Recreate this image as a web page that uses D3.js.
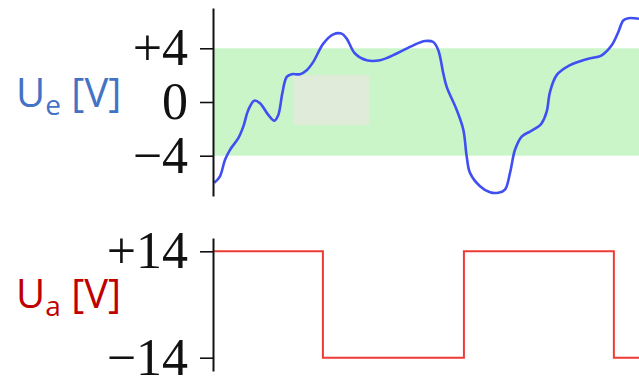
<!DOCTYPE html>
<html>
<head>
<meta charset="utf-8">
<script src="https://cdn.jsdelivr.net/npm/d3@7"></script>
<style>
  html, body { margin: 0; padding: 0; background: #fff; }
  svg { display: block; }
</style>
</head>
<body>
<svg id="chart" width="639" height="377"></svg>
<script>
// Input voltage U_e (time in ms, value in V)
const inputTime = [0.3, 1.64, 2.82, 3.99, 5.94, 7.11, 8.29, 9.69, 11.03, 12.98, 14.39, 15.33, 16.27, 17.3, 18.47, 20.42, 22.0, 23.54, 25.89, 28.24, 30.21, 31.38, 33.33, 36.08, 39.2, 43.12, 47.02, 49.77, 51.71, 52.89, 54.06, 54.86, 57.21, 58.76, 59.55, 60.33, 62.68, 65.02, 66.97, 68.54, 69.72, 70.89, 72.46, 74.41, 76.36, 77.16, 78.33, 79.11, 80.68, 83.8, 87.72, 91.24, 93.59, 95.14, 96.31, 97.49, 100];
const inputVolts = [-6.02, -5.53, -4.3, -3.56, -2.69, -1.83, -0.59, 0.1, -0.1, -0.96, -1.39, -0.96, 0.64, 1.87, 2.07, 2.07, 2.37, 2.99, 4.35, 5.04, 5.09, 4.72, 3.61, 3.11, 3.11, 3.61, 4.22, 4.54, 4.47, 3.85, 2.13, 1.13, -0.59, -2.07, -4.05, -5.28, -6.27, -6.72, -6.76, -6.52, -5.28, -3.56, -2.57, -2.2, -1.83, -1.58, -0.72, 0.76, 2.0, 2.74, 3.19, 3.48, 4.22, 5.21, 6.07, 6.24, 6.2];

// Output voltage U_a: switching instants and saturation levels
const outputTime = [0, 25.8, 58.9, 94.1, 100];
const outputVolts = [14, -14, 14, -14, -14];

// Hysteresis window of the trigger
const thresholdHigh = 4;
const thresholdLow = -4;
// Shaded patch inside the window
const patchTime = [18.8, 36.6];
const patchVolts = [2.0, -1.7];

const inputTicks = [-4, 0, 4];
const outputTicks = [-14, 14];

const timeDomain = [0, 100];

const svg = d3.select("#chart");

const x = d3.scaleLinear().domain(timeDomain).range([213, 639]);
const yIn = d3.scaleLinear().domain([-7, 7]).range([196, 8]);
const yOut = d3.scaleLinear().domain([-17.5, 17.5]).range([371, 238]);

const signed = d => d > 0 ? "+" + d : d < 0 ? "\u2212" + (-d) : "0";

// Threshold band
svg.append("rect")
  .attr("x", x(timeDomain[0]))
  .attr("y", yIn(thresholdHigh))
  .attr("width", x(timeDomain[1]) - x(timeDomain[0]))
  .attr("height", yIn(thresholdLow) - yIn(thresholdHigh))
  .attr("fill", "#c9f5c9");

svg.append("rect")
  .attr("x", x(patchTime[0]))
  .attr("y", yIn(patchVolts[0]))
  .attr("width", x(patchTime[1]) - x(patchTime[0]))
  .attr("height", yIn(patchVolts[1]) - yIn(patchVolts[0]))
  .attr("fill", "#e1ebd9");

// Input signal
const inputData = inputTime.map((t, i) => [t, inputVolts[i]]);
svg.append("path")
  .datum(inputData)
  .attr("fill", "none")
  .attr("stroke", "#3f4ff2")
  .attr("stroke-width", 2.6)
  .attr("stroke-linejoin", "round")
  .attr("d", d3.line().x(d => x(d[0])).y(d => yIn(d[1])).curve(d3.curveCatmullRom.alpha(0.5)));

// Output signal
const outputData = outputTime.map((t, i) => [t, outputVolts[i]]);
svg.append("path")
  .datum(outputData)
  .attr("fill", "none")
  .attr("stroke", "#ee3b36")
  .attr("stroke-width", 2)
  .attr("d", d3.line().x(d => x(d[0])).y(d => yOut(d[1])).curve(d3.curveStepAfter));

// Axes
function styleAxis(g) {
  g.select(".domain").attr("stroke", "#111").attr("stroke-width", 2);
  g.selectAll(".tick line").attr("stroke", "#111").attr("stroke-width", 1.6);
  g.selectAll(".tick text")
    .attr("fill", "#111")
    .attr("font-family", "'Liberation Serif', 'Times New Roman', serif")
    .attr("font-size", 52);
}

svg.append("g")
  .attr("transform", `translate(${x(0)},0)`)
  .call(d3.axisLeft(yIn).tickValues(inputTicks).tickSize(13).tickSizeOuter(0).tickPadding(12).tickFormat(signed))
  .call(styleAxis);

svg.append("g")
  .attr("transform", `translate(${x(0)},0)`)
  .call(d3.axisLeft(yOut).tickValues(outputTicks).tickSize(13).tickSizeOuter(0).tickPadding(12).tickFormat(signed))
  .call(styleAxis);

// Axis titles
function title(y, main, sub, color) {
  const t = svg.append("text")
    .attr("x", 16)
    .attr("y", y)
    .attr("fill", color)
    .attr("font-family", "'Open Sans', 'Noto Sans', sans-serif")
    .attr("font-size", 40);
  t.append("tspan").text(main);
  t.append("tspan").attr("font-size", 28).attr("dy", 8).text(sub);
  t.append("tspan").attr("dy", -8).text(" [V]");
}
title(107, "U", "e", "#4472c4");
title(308, "U", "a", "#c00000");
</script>
</body>
</html>
